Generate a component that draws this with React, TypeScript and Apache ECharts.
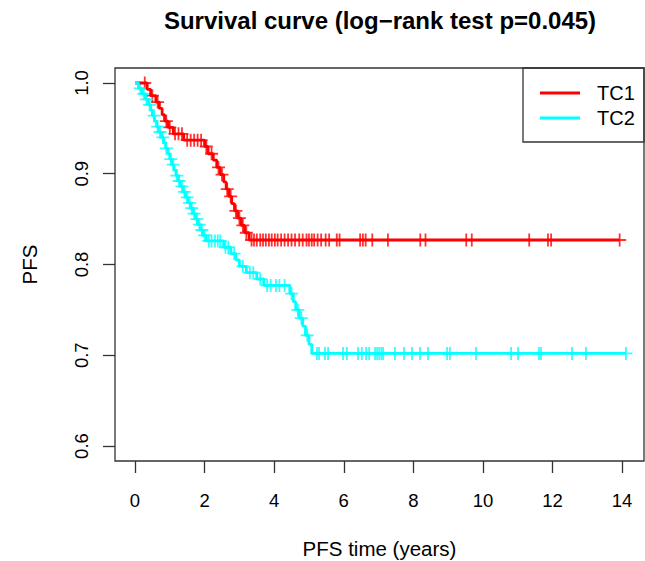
import React, { useEffect, useRef } from "react";
import * as echarts from "echarts";

// ---- Data ----
const xTicks = [0, 2, 4, 6, 8, 10, 12, 14];
const yTicks = [0.6, 0.7, 0.8, 0.9, 1.0];

// TC1: event times and survival value after each drop
const tc1StepTimes = [0.35, 0.45, 0.6, 0.7, 0.78, 0.85, 0.95, 1.1, 1.4, 2.0, 2.1, 2.25, 2.35, 2.45, 2.55, 2.62, 2.7, 2.78, 2.86, 2.95, 3.05, 3.15, 3.28];
const tc1StepValues = [0.993, 0.986, 0.979, 0.972, 0.965, 0.958, 0.951, 0.944, 0.937, 0.93, 0.922, 0.915, 0.907, 0.899, 0.891, 0.883, 0.875, 0.867, 0.859, 0.851, 0.843, 0.835, 0.827];
const tc1CensorTimes = [0.28, 0.5, 0.65, 0.9, 1.0, 1.15, 1.25, 1.35, 1.5, 1.6, 1.7, 1.8, 1.9, 2.05, 2.2, 2.4, 2.5, 2.65, 2.75, 2.9, 3.0, 3.1, 3.2,
  3.35, 3.42, 3.5, 3.6, 3.68, 3.76, 3.85, 3.93, 4.02, 4.1, 4.2, 4.3, 4.4, 4.5, 4.6, 4.72, 4.82, 4.93, 5.0, 5.08, 5.15, 5.25, 5.35, 5.48, 5.58, 5.8, 5.88,
  6.47, 6.55, 6.63, 6.82, 7.27, 8.2, 8.35, 9.52, 9.68, 11.33, 11.87, 11.96, 13.93];

// TC2
const tc2StepTimes = [0.1, 0.2, 0.3, 0.38, 0.45, 0.5, 0.56, 0.62, 0.68, 0.75, 0.82, 0.88, 0.95, 1.0, 1.06, 1.12, 1.18, 1.24, 1.3, 1.38, 1.45, 1.52, 1.6, 1.67, 1.74, 1.8, 1.88, 1.95, 2.05,
  2.55, 2.75, 2.9, 3.0, 3.2, 3.5, 3.7, 4.45, 4.55, 4.62, 4.72, 4.82, 4.9, 5.0, 5.08];
const tc2StepValues = [0.994, 0.988, 0.982, 0.976, 0.97, 0.964, 0.958, 0.952, 0.946, 0.94, 0.934, 0.928, 0.922, 0.916, 0.91, 0.904, 0.898, 0.892, 0.886, 0.88, 0.874, 0.868, 0.862, 0.856, 0.85, 0.844, 0.838, 0.832, 0.826,
  0.819, 0.812, 0.805, 0.798, 0.791, 0.784, 0.777, 0.768, 0.759, 0.75, 0.741, 0.732, 0.722, 0.712, 0.702];
const tc2CensorTimes = [0.15, 0.25, 0.33, 0.42, 0.55, 0.65, 0.72, 0.8, 0.9, 1.03, 1.1, 1.2, 1.27, 1.35, 1.42, 1.5, 1.57, 1.63, 1.7, 1.78, 1.85, 1.92, 2.0, 2.12, 2.2, 2.3, 2.38, 2.45, 2.6, 2.68,
  2.85, 3.1, 3.3, 3.4, 3.6, 3.8, 3.9, 4.05, 4.15, 4.3, 4.5, 4.68, 4.78, 4.95,
  5.23, 5.29, 5.46, 5.55, 5.98, 6.09, 6.41, 6.52, 6.64, 6.73, 6.9, 6.96, 7.02, 7.08, 7.13, 7.47, 7.73, 7.96, 8.19, 8.42, 8.97, 9.05, 9.8, 10.81, 11.01, 11.61, 11.67, 12.56, 12.96, 14.11];

const RED = "#FF0000";
const CYAN = "#00FFFF";
const INK = "#333333";
const FONT = "'Liberation Sans', Arial, Helvetica, sans-serif";

function survivalAt(times: number[], values: number[], t: number): number {
  let v = 1;
  for (let i = 0; i < times.length; i++) {
    if (times[i] <= t) v = values[i];
  }
  return v;
}

function stepLine(times: number[], values: number[], censors: number[]): number[][] {
  const pts: number[][] = [[0, 1]];
  times.forEach((t, i) => pts.push([t, values[i]]));
  const end = censors[censors.length - 1];
  pts.push([end, survivalAt(times, values, end)]);
  return pts;
}

function censorPts(times: number[], values: number[], censors: number[]): number[][] {
  return censors.map((t) => [t, survivalAt(times, values, t)]);
}

const PLUS = "path://M6,0L6,12M0,6L12,6";

export default function App() {
  const ref = useRef<HTMLDivElement>(null);
  useEffect(() => {
    if (!ref.current) return;
    const chart = echarts.init(ref.current, undefined, { renderer: "svg" });
    const option: any = {
      animation: false,
      backgroundColor: "#ffffff",
      textStyle: { fontFamily: FONT },
      grid: {
        left: 115,
        right: 1,
        top: 68,
        bottom: 100,
        show: true,
        borderColor: INK,
        borderWidth: 1.3,
        containLabel: false,
        outerBoundsMode: "none",
      },
      xAxis: {
        type: "value",
        min: -0.575,
        max: 14.63,
        position: "bottom",
        name: "PFS time (years)",
        nameLocation: "middle",
        nameGap: 77,
        nameTextStyle: { fontSize: 20.5, color: "#000", fontFamily: FONT },
        axisLine: { show: false, onZero: false },
        splitLine: { show: false },
        axisTick: { show: true, inside: false, length: 12, customValues: xTicks, lineStyle: { color: INK, width: 1.3 } },
        axisLabel: { show: true, customValues: xTicks, margin: 30, fontSize: 18.5, lineHeight: 19, color: "#000", fontFamily: FONT },
      },
      yAxis: {
        type: "value",
        min: 0.5835,
        max: 1.0165,
        position: "left",
        name: "PFS",
        nameLocation: "middle",
        nameRotate: 90,
        nameGap: 75,
        nameTextStyle: { fontSize: 20.5, color: "#000", fontFamily: FONT },
        axisLine: { show: false, onZero: false },
        splitLine: { show: false },
        axisTick: { show: true, inside: false, length: 12, customValues: yTicks, lineStyle: { color: INK, width: 1.3 } },
        axisLabel: {
          show: true,
          customValues: yTicks,
          rotate: 90,
          margin: 24,
          fontSize: 18.5,
          lineHeight: 19,
          color: "#000",
          fontFamily: FONT,
          formatter: (v: number) => v.toFixed(1),
        },
      },
      legend: {
        data: ["TC1", "TC2"],
        orient: "vertical",
        left: 540,
        top: 83,
        padding: 0,
        icon: "rect",
        itemWidth: 40,
        itemHeight: 3,
        itemGap: 5,
        textStyle: { fontSize: 20, lineHeight: 20, color: "#000", fontFamily: FONT, padding: [0, 0, 0, 12] },
      },
      graphic: [
        {
          type: "text",
          x: 380,
          y: 8,
          style: {
            text: "Survival curve (log\u2212rank test p=0.045)",
            font: `bold 24px ${FONT}`,
            fill: "#000",
            textAlign: "center",
          },
        },
        {
          type: "rect",
          shape: { x: 523, y: 68, width: 121, height: 74 },
          style: { fill: "none", stroke: INK, lineWidth: 1.3 },
          z: 10,
        },
      ],
      series: [
        {
          name: "TC1",
          type: "line",
          step: "end",
          symbol: "none",
          data: stepLine(tc1StepTimes, tc1StepValues, tc1CensorTimes),
          lineStyle: { color: RED, width: 2.8 },
          itemStyle: { color: RED },
        },
        {
          name: "TC2",
          type: "line",
          step: "end",
          symbol: "none",
          data: stepLine(tc2StepTimes, tc2StepValues, tc2CensorTimes),
          lineStyle: { color: CYAN, width: 2.8 },
          itemStyle: { color: CYAN },
        },
        {
          name: "TC1",
          type: "scatter",
          symbol: PLUS,
          symbolSize: 13,
          data: censorPts(tc1StepTimes, tc1StepValues, tc1CensorTimes),
          itemStyle: { color: "rgba(0,0,0,0)", borderColor: RED, borderWidth: 1.8 },
        },
        {
          name: "TC2",
          type: "scatter",
          symbol: PLUS,
          symbolSize: 13,
          data: censorPts(tc2StepTimes, tc2StepValues, tc2CensorTimes),
          itemStyle: { color: "rgba(0,0,0,0)", borderColor: CYAN, borderWidth: 1.8 },
        },
      ],
    };
    chart.setOption(option);
    return () => chart.dispose();
  }, []);
  return (
    <div
      ref={ref}
      style={{ position: "absolute", left: 0, top: 0, width: 645, height: 561, background: "#fff" }}
    />
  );
}
